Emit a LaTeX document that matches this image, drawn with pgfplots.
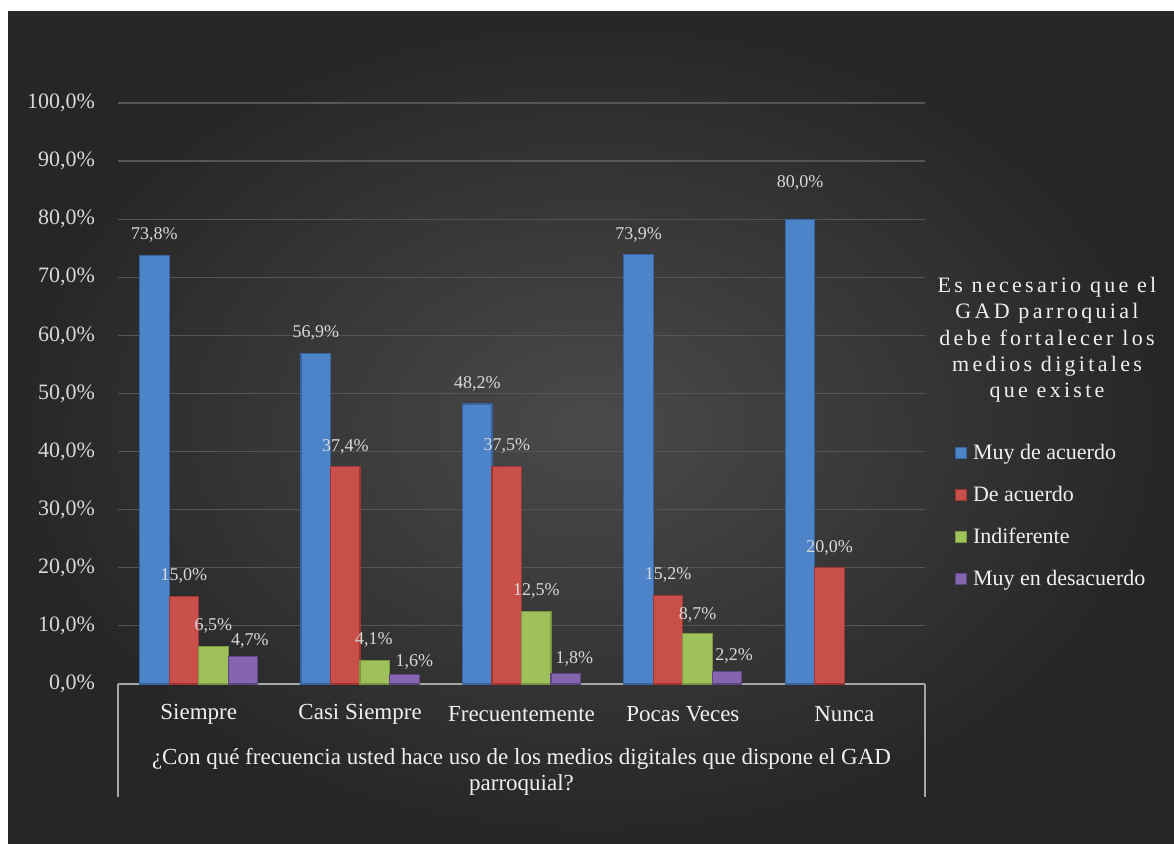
\documentclass[border=0pt]{standalone}
\usepackage{fontspec}
\setmainfont{Liberation Serif}
\newfontfamily\spaced[LetterSpace=15]{Liberation Serif}
\usepackage{pgfplots}
\usepackage{pgfplotstable}
\pgfplotsset{compat=1.18}

\definecolor{bgin}{HTML}{4A4A4A}
\definecolor{bgout}{HTML}{262626}
\definecolor{gridc}{HTML}{555555}
\definecolor{axc}{HTML}{A6A6A6}
\definecolor{txt}{HTML}{D9D9D9}
\definecolor{txtw}{HTML}{F0F0F0}
\definecolor{blueD}{HTML}{35649F}
\definecolor{blueM}{HTML}{4D83C8}
\definecolor{redD}{HTML}{9E3532}
\definecolor{redM}{HTML}{C94F4B}
\definecolor{greenD}{HTML}{7A9840}
\definecolor{greenM}{HTML}{9FC15B}
\definecolor{purpD}{HTML}{5E4682}
\definecolor{purpM}{HTML}{8566AE}

\pgfplotstableread{
x y dx dy
0 73.8 0 10
1 56.9 0 10
2 48.2 0 10
3 73.9 0 10
4 80.0 0 18
}\muyacuerdo
\pgfplotstableread{
x y dx dy
0 15.0 0 10.5
1 37.4 0 10
2 37.5 0 10
3 15.2 0 10.5
4 20.0 0 10
}\deacuerdo
\pgfplotstableread{
x y dx dy
0 6.5 0 10
1 4.1 -0.5 10
2 12.5 0 10
3 8.7 0 9.5
}\indiferente
\pgfplotstableread{
x y dx dy
0 4.7 3.5 8
1 1.6 5 6.5
2 1.8 4.3 7.5
3 2.2 3.5 7.5
}\desacuerdo

\begin{document}
\begin{tikzpicture}
\fill[white] (0,0) rectangle (587pt,422pt);
\shade[inner color=bgin, outer color=bgout] (4pt,0) rectangle (587pt,416pt);
\begin{axis}[
  at={(59pt,80pt)}, anchor=south west,
  scale only axis, width=403.5pt, height=290.5pt,
  xmin=-0.5, xmax=4.5, ymin=0, ymax=100,
  enlargelimits=false, clip=false,
  ybar=0pt, bar width=14.75pt,
  axis x line*=bottom, axis y line*=left,
  x axis line style={draw=axc, line width=1pt},
  y axis line style={draw=none},
  major tick length=0pt,
  xtick={0,1,2,3,4},
  xticklabels={Siempre,Casi Siempre,Frecuentemente,Pocas Veces,Nunca},
  xticklabel style={font=\fontsize{11.5}{13}\selectfont, text=txtw, anchor=center, yshift=-15pt},
  ytick={0,10,...,100},
  /pgf/number format/assume math mode=true,
  yticklabel={\pgfmathprintnumber[fixed,fixed zerofill,precision=1,use comma]{\tick}\%},
  yticklabel style={font=\fontsize{11}{13}\selectfont, text=txt, anchor=east, xshift=-8pt},
  ymajorgrids, grid style={draw=gridc, line width=0.6pt},
  xlabel={¿Con qué frecuencia usted hace uso de los medios digitales que dispone el GAD\\parroquial?},
  xlabel style={at={(axis description cs:0.5,-0.151)}, anchor=center, align=center,
     font=\fontsize{11.5}{12.75}\selectfont, text=txtw},
  nodes near coords={\pgfmathprintnumber[fixed,fixed zerofill,precision=1,use comma]{\pgfplotspointmeta}\%},
  visualization depends on={\thisrow{dx} \as \dx},
  visualization depends on={\thisrow{dy} \as \dy},
  every node near coord/.append style={anchor=center, xshift=\dx pt, yshift=\dy pt,
     font=\fontsize{9}{10}\selectfont, text=txt},
  legend style={at={(axis description cs:1.037,0.418)}, anchor=north west,
     draw=none, fill=none, font=\fontsize{11}{13}\selectfont, text=txtw,
     row sep=8.8pt, inner sep=0pt, outer sep=0pt,
     nodes={inner sep=1.5pt}},
  legend cell align=left,
  legend image code/.code={\fill[#1] (0pt,-2.7pt) rectangle (5.5pt,2.7pt);},
]
\addplot[draw=blueD, line width=0.6pt, fill=blueM] table[x=x,y=y] {\muyacuerdo};
\addplot[draw=redD, line width=0.6pt, fill=redM] table[x=x,y=y] {\deacuerdo};
\addplot[draw=greenD, line width=0.6pt, fill=greenM] table[x=x,y=y] {\indiferente};
\addplot[draw=purpD, line width=0.6pt, fill=purpM] table[x=x,y=y] {\desacuerdo};
\legend{\hspace{1.5pt}Muy de acuerdo,\hspace{1.5pt}De acuerdo,\hspace{1.5pt}Indiferente,\hspace{1.5pt}Muy en desacuerdo}
\draw[axc, line width=1pt] (axis description cs:0,0) -- (axis description cs:0,-0.1945);
\draw[axc, line width=1pt] (axis description cs:1,0) -- (axis description cs:1,-0.1945);
\end{axis}
\node[align=center, text=txtw, font=\fontsize{11}{13.15}\selectfont\spaced] at (523.5pt,252pt)
  {Es necesario que el\\GAD parroquial\\debe fortalecer los\\medios digitales\\que existe};
\end{tikzpicture}
\end{document}
